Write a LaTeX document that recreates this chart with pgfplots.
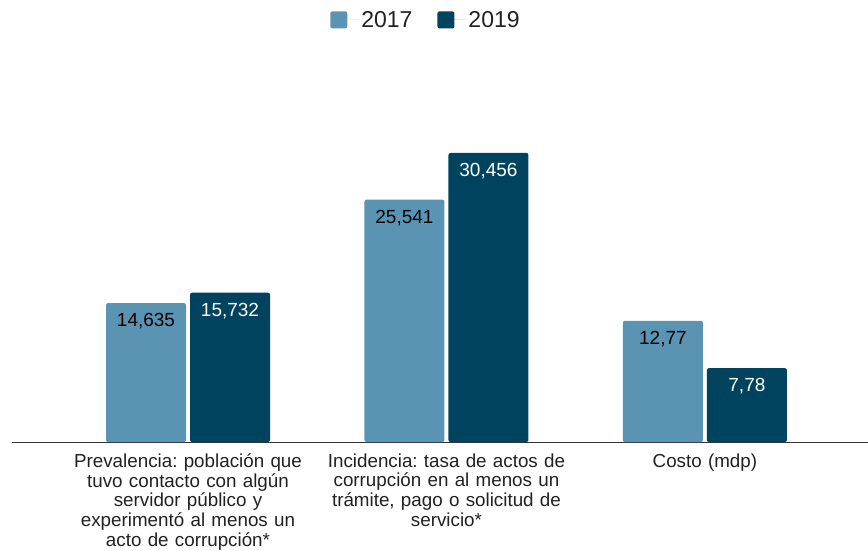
\documentclass[border=0pt]{standalone}
\usepackage{pgfplots}
\pgfplotsset{compat=1.18}
\usepackage{pgfplotstable}
\usepackage{fontspec}
\setmainfont{Liberation Sans}
\frenchspacing
\definecolor{cA}{HTML}{5B93B2}
\definecolor{cB}{HTML}{00435F}
\definecolor{txt}{HTML}{212121}
\definecolor{axl}{HTML}{333333}
\pgfplotstableread{
x y lab
0 14.635 14,635
1 25.541 25,541
2 12.77 12,77
}\tA
\pgfplotstableread{
x y lab
0 15.732 15,732
1 30.456 30,456
2 7.78 7,78
}\tB
\begin{document}
\begin{tikzpicture}
\useasboundingbox (-12pt,-108pt) rectangle (856pt,442pt);
\begin{axis}[
  scale only axis, width=856pt, height=382pt,
  xmin=-0.681, xmax=2.631, ymin=0, ymax=40.25,
  ybar=4pt, bar width=80pt,
  axis x line*=bottom, axis y line=none,
  x axis line style={draw=axl, line width=1pt, -},
  xtick={0,1,2}, major tick length=0pt,
  xticklabels={{Prevalencia: población que\\tuvo contacto con algún\\servidor público y\\experimentó al menos un\\acto de corrupción*},
               {Incidencia: tasa de actos de\\corrupción en al menos un\\trámite, pago o solicitud de\\servicio*},
               {Costo (mdp)}},
  xticklabel style={text width=270pt, align=center, font=\fontsize{18.8}{19.8}\selectfont, text=txt, anchor=north, yshift=-8pt},
  ytick=\empty,
  nodes near coords, point meta=explicit symbolic,
  every node near coord/.append style={anchor=north, yshift=-7pt, font=\fontsize{19}{20}\selectfont},
  legend columns=2,
  legend style={at={(0.4836,1.105)}, anchor=center, draw=none, fill=none,
    font=\fontsize{23}{25}\selectfont, text=txt,
    /tikz/every even column/.append style={column sep=23pt}},
  legend image code/.code={\fill[#1] (0pt,-8.5pt) rectangle (17pt,8.5pt); \path (0pt,0pt) -- (29pt,0pt);},
]
\addplot[fill=cA, draw=none, rounded corners=2pt, every node near coord/.append style={text=black}] table[x=x, y=y, meta=lab] {\tA};
\addplot[fill=cB, draw=none, rounded corners=2pt, every node near coord/.append style={text=white}] table[x=x, y=y, meta=lab] {\tB};
\legend{2017,2019}
\end{axis}
\end{tikzpicture}
\end{document}
